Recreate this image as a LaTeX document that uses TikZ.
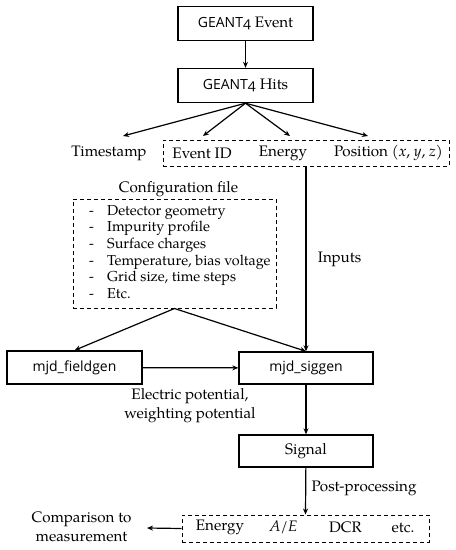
\documentclass[tikz,border=0pt]{standalone}
\usepackage{fontspec}
\setmainfont{TeX Gyre Pagella}
\newfontfamily\geantfont[Numbers=OldStyle]{Open Sans}
\usetikzlibrary{arrows.meta}

\tikzset{
  box/.style={draw, line width=1.4pt, minimum width=135pt, minimum height=34pt, inner sep=0pt},
  dashbox/.style={draw, line width=1pt, dash pattern=on 4pt off 3pt, inner sep=0pt},
  code/.style={font=\geantfont\fontsize{14}{16}\selectfont},
  flow/.style={draw, line width=1.2pt, ->}
}

\begin{document}
\begin{tikzpicture}[x=1pt, y=-1pt, >={Stealth[length=6pt,width=5pt]}, font=\fontsize{15.2}{19}\selectfont]
\useasboundingbox (0,0) rectangle (456,550);

\node[box] (event) at (245.5,23.5) {{\geantfont\fontsize{14}{16}\selectfont GEANT4} Event};
\node[box] (hits) at (245.5,85.5) {{\geantfont\fontsize{14}{16}\selectfont GEANT4} Hits};

\node (timestamp) at (109,153) {Timestamp};
\node[dashbox, minimum width=286pt, minimum height=26pt] (inputs) at (306,153) {};
\node (eventid) at (202,153) {Event ID};
\node (energy) at (283,153) {Energy};
\node (position) at (388.5,153) {Position (\textit{x}, \textit{y}, \textit{z})};

\coordinate (t1) at (123,136);
\coordinate (t2) at (203,136);
\coordinate (t3) at (290,136);
\coordinate (t4) at (368,136);

\node (configtitle) at (178.5,189) {Configuration file};
\node[dashbox, minimum width=203pt, minimum height=109pt] (config) at (174.5,253.5) {};
\node[anchor=west, inner sep=0pt, font=\fontsize{14.4}{16.7}\selectfont] (configlist) at (89,253.5) {%
  \begin{tabular}{@{}p{18pt}@{}l@{}}
  - & Detector geometry\\
  - & Impurity profile\\
  - & Surface charges\\
  - & Temperature, bias voltage\\
  - & Grid size, time steps\\
  - & Etc.
  \end{tabular}};

\node[box, code, minimum height=33pt] (fieldgen) at (74.5,367.5) {mjd\_fieldgen};
\node[box, code, minimum width=134pt, minimum height=32pt] (siggen) at (306,368) {mjd\_siggen};
\node[align=center] (potential) at (190,406) {Electric potential,\\weighting potential};

\node[box, minimum width=134pt, minimum height=32pt] (signal) at (306,451) {Signal};

\node[dashbox, minimum width=247pt, minimum height=27pt] (results) at (305.5,528.5) {};
\node (renergy) at (220,527.5) {Energy};
\node (ae) at (283.5,527.5) {\textit{A}/\textit{E}};
\node (dcr) at (345.5,527.5) {DCR};
\node (etc) at (403,527.5) {etc.};

\node[align=center, inner sep=0pt] (comparison) at (81.5,527) {Comparison to\\measurement};
\coordinate (c1) at (147,528);

\path[flow] (event) -- (hits);
\path[flow] (hits.south) -- (t1);
\path[flow] (hits.south) -- (t2);
\path[flow] (hits.south) -- (t3);
\path[flow] (hits.south) -- (t4);

\path[flow] (inputs.south) -- node[right=8pt] (inputslabel) {Inputs} (siggen.north);
\path[flow] (config.south) -- (fieldgen.north);
\path[flow] (config.south) -- (siggen.north);
\path[flow] (fieldgen) -- (siggen);
\path[flow] (siggen) -- (signal);
\path[flow] (signal) -- node[right=2pt, pos=0.45] (postlabel) {Post-processing} (results.north);
\path[flow] (results.west) -- (c1);
\end{tikzpicture}
\end{document}
